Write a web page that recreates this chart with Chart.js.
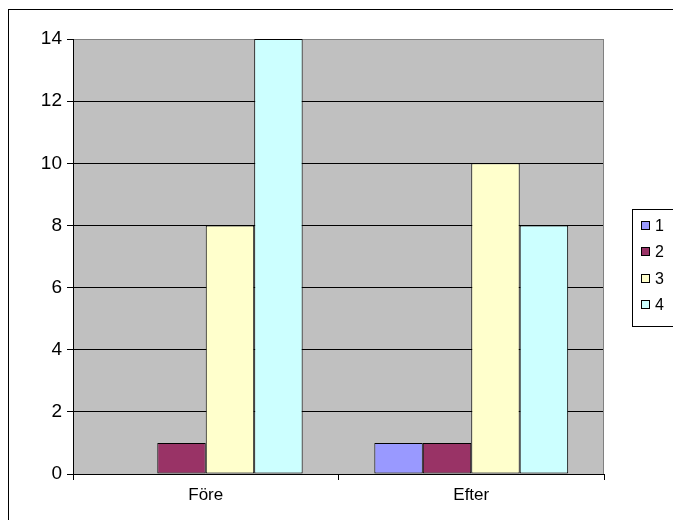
<!DOCTYPE html>
<html>
<head>
<meta charset="utf-8">
<script src="https://cdn.jsdelivr.net/npm/chart.js@4/dist/chart.umd.min.js"></script>
<style>
  html, body { margin: 0; padding: 0; background: #ffffff; }
  canvas { display: block; }
</style>
</head>
<body>
<canvas id="chart" width="673" height="520"></canvas>
<script>
// Categories, series and tick values
const categories = ['Före', 'Efter'];
const seriesNames = ['1', '2', '3', '4'];
const series1 = [0, 1];
const series2 = [1, 1];
const series3 = [8, 10];
const series4 = [14, 8];
const yTicks = [0, 2, 4, 6, 8, 10, 12, 14];

const seriesColors = ['#9999FF', '#993366', '#FFFFCC', '#CCFFFF'];
const FONT = 'Liberation Sans, Arial, sans-serif';

// Gray plot area, frame and boxed legend drawn around the bars
const framePlugin = {
  id: 'frame',
  beforeDraw(chart) {
    const { ctx, chartArea: a } = chart;
    ctx.save();
    ctx.fillStyle = '#ffffff';
    ctx.fillRect(0, 0, chart.width, chart.height);
    ctx.fillStyle = '#C0C0C0';
    ctx.fillRect(a.left, a.top, a.right - a.left, a.bottom - a.top);
    ctx.restore();
  },
  beforeDatasetsDraw(chart) {
    const { ctx, chartArea: a } = chart;
    ctx.save();
    ctx.strokeStyle = '#808080';
    ctx.lineWidth = 1;
    ctx.beginPath();
    ctx.moveTo(Math.round(a.right) - 0.5, a.top);
    ctx.lineTo(Math.round(a.right) - 0.5, a.bottom);
    ctx.stroke();
    ctx.restore();
  },
  afterDraw(chart) {
    const { ctx } = chart;
    ctx.save();
    // outer chart border
    ctx.strokeStyle = '#000000';
    ctx.lineWidth = 1;
    ctx.strokeRect(8.5, 9.5, 800, 600);

    // legend box
    ctx.strokeRect(632.5, 209.5, 100, 117);
    ctx.font = '16px ' + FONT;
    ctx.textBaseline = 'middle';
    ctx.textAlign = 'left';
    chart.data.datasets.forEach((ds, i) => {
      const cy = Math.round(226 + i * 26.3);
      ctx.fillStyle = ds.backgroundColor;
      ctx.fillRect(641, cy - 5, 9, 9);
      ctx.strokeStyle = '#000000';
      ctx.strokeRect(641.5, cy - 4.5, 8, 8);
      ctx.fillStyle = '#000000';
      ctx.fillText(ds.label, 655, cy + 1);
    });
    ctx.restore();
  }
};

const seriesValues = [series1, series2, series3, series4];

new Chart(document.getElementById('chart'), {
  type: 'bar',
  data: {
    labels: categories,
    datasets: seriesNames.map((name, i) => ({
      label: name,
      data: seriesValues[i],
      backgroundColor: seriesColors[i],
      borderColor: '#000000',
      borderWidth: 1,
      borderSkipped: false,
      categoryPercentage: 0.73,
      barPercentage: 1.0
    }))
  },
  options: {
    responsive: false,
    animation: false,
    devicePixelRatio: 1,
    layout: { padding: { left: 0, top: 39, right: 69, bottom: 0 } },
    plugins: {
      legend: { display: false },
      tooltip: { enabled: false }
    },
    scales: {
      x: {
        grid: {
          offset: true,
          drawOnChartArea: false,
          color: '#000000',
          tickLength: 6
        },
        border: { color: '#000000', width: 1 },
        ticks: {
          color: '#000000',
          font: { family: FONT, size: 17 },
          padding: 5
        },
        afterFit(scale) { scale.height = 46; }
      },
      y: {
        min: 0,
        max: 14,
        afterBuildTicks(scale) {
          scale.ticks = yTicks.map(v => ({ value: v }));
        },
        grid: {
          color: ctx => (ctx.tick && ctx.tick.value === 14 ? '#808080' : '#000000'),
          tickColor: '#000000',
          tickLength: 6
        },
        border: { color: '#000000', width: 1 },
        ticks: {
          color: '#000000',
          font: { family: FONT, size: 19 },
          padding: 5
        },
        afterFit(scale) { scale.width = 73; }
      }
    }
  },
  plugins: [framePlugin]
});
</script>
</body>
</html>
